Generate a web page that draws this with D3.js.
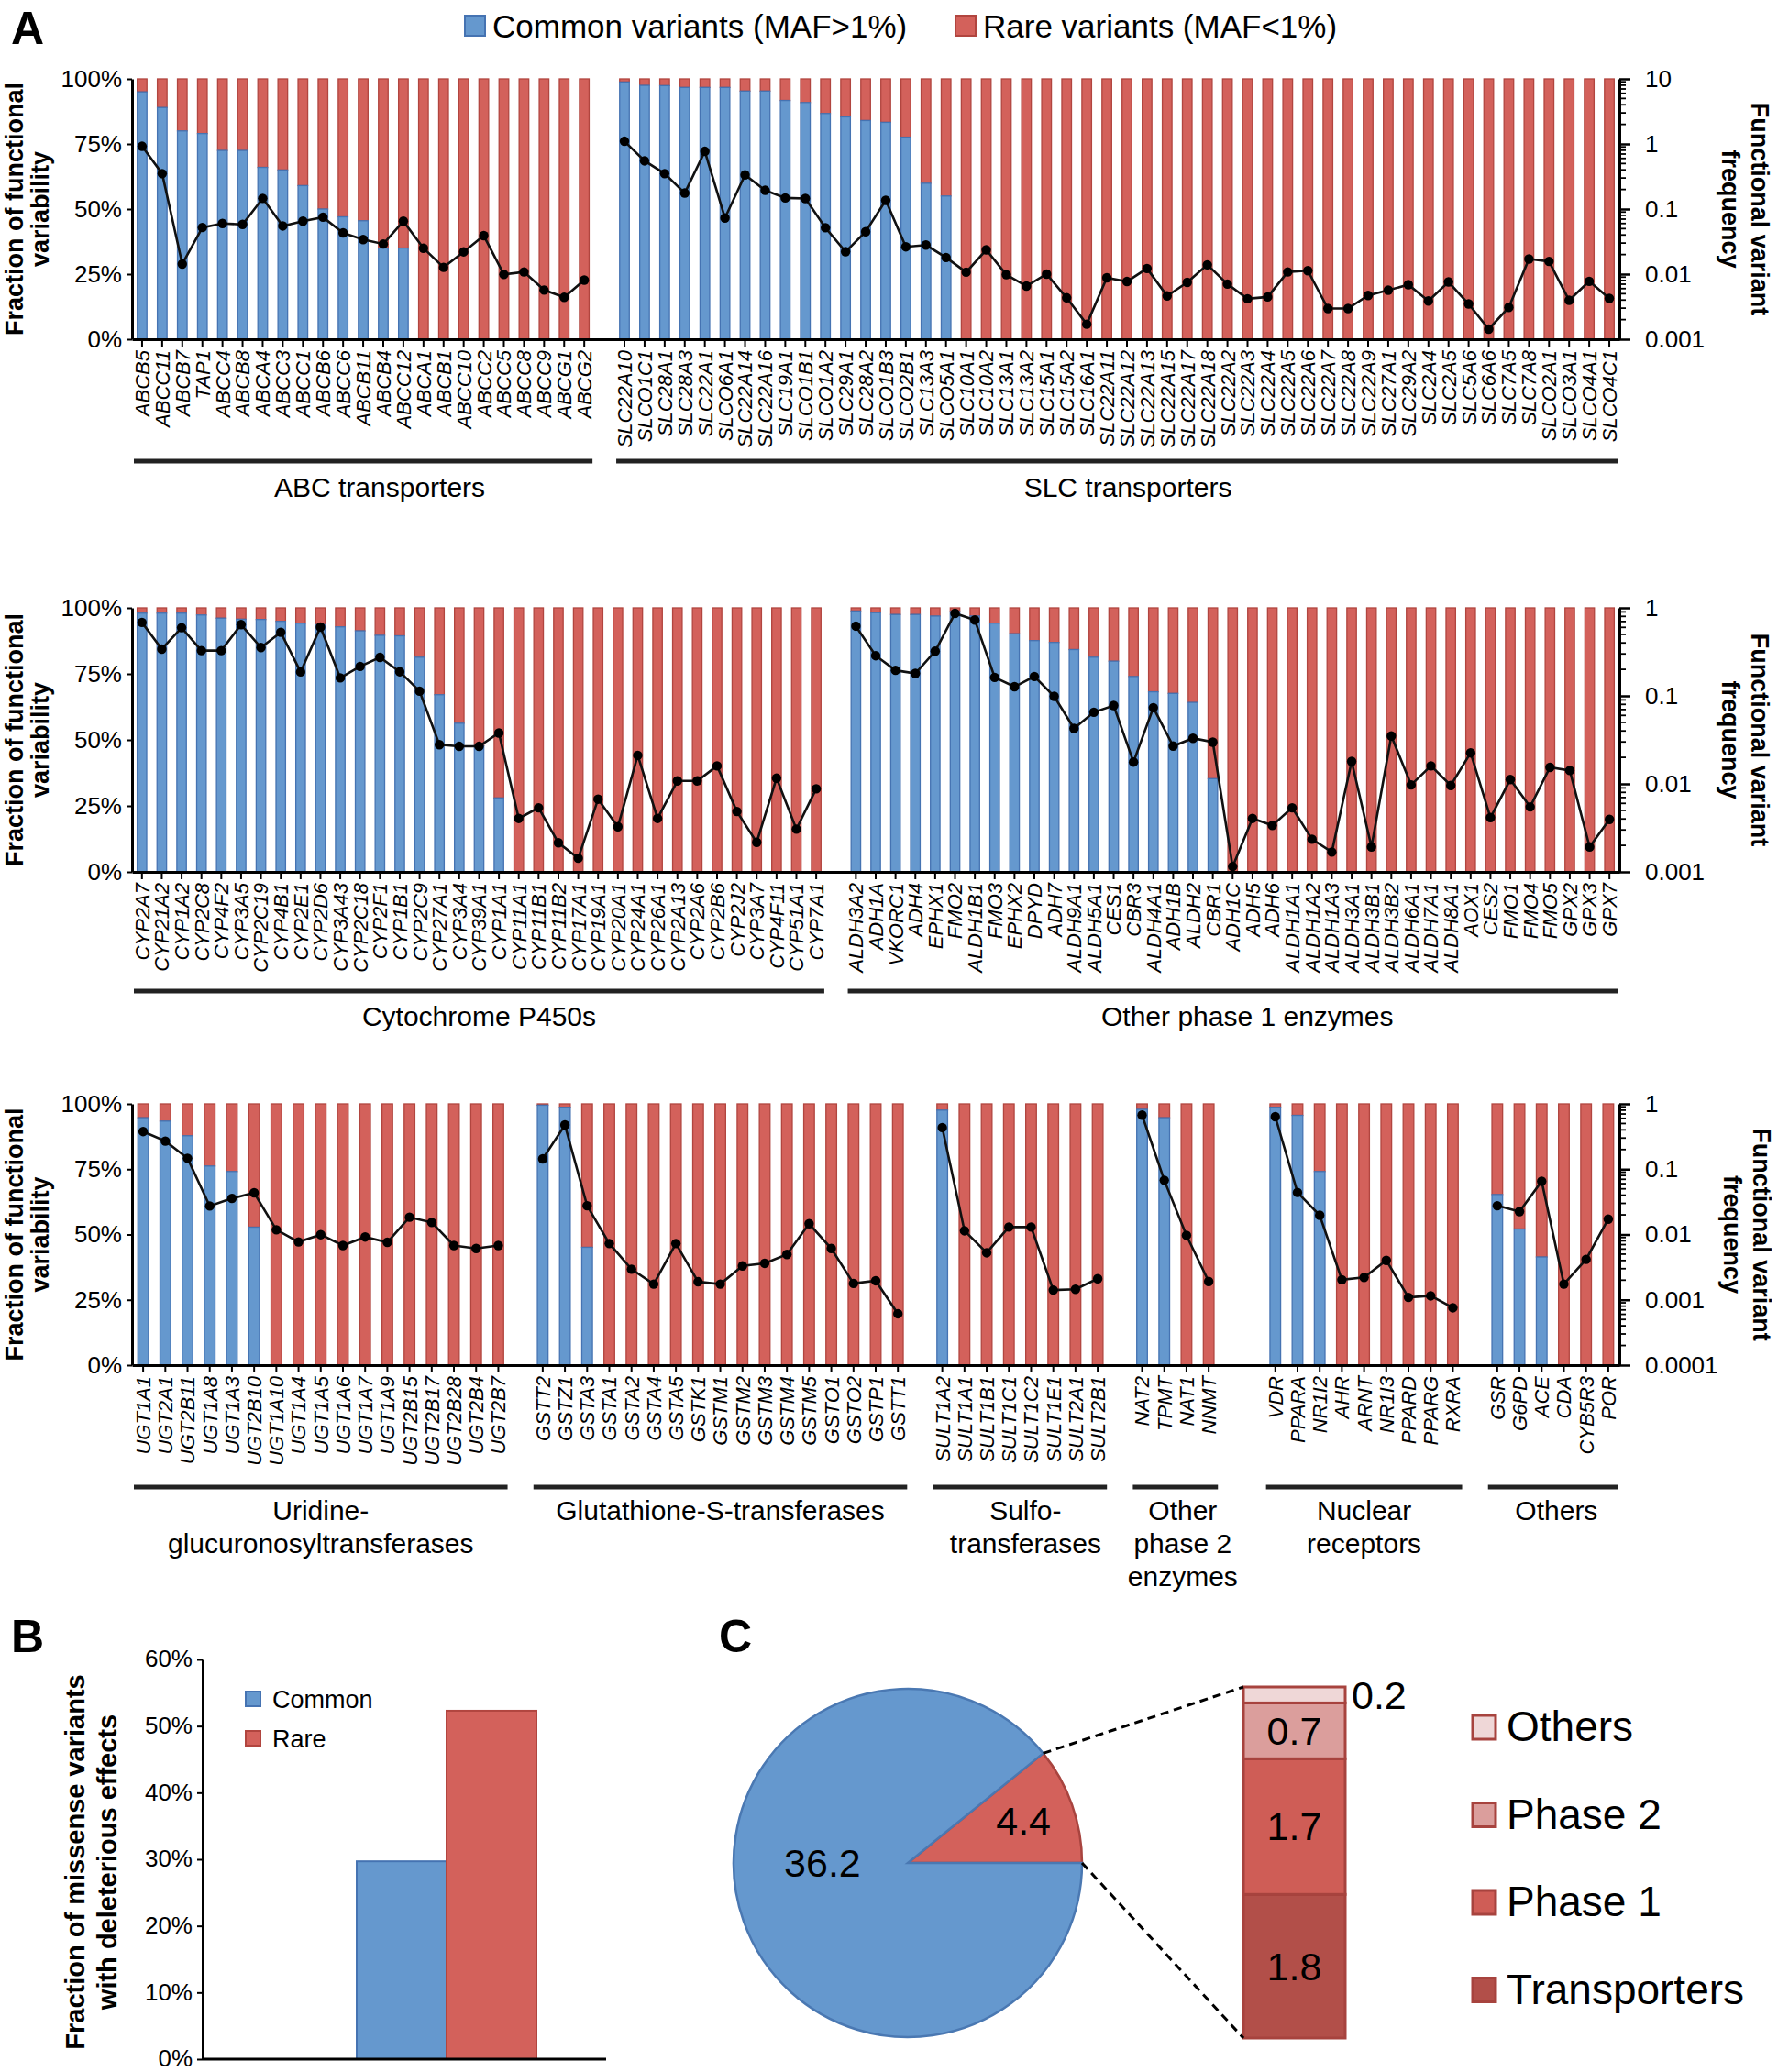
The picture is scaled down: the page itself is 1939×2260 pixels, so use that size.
<!DOCTYPE html>
<html><head><meta charset="utf-8">
<script src="https://cdn.jsdelivr.net/npm/d3@7"></script>
<style>
body{margin:0;background:#fff;}
svg text{font-family:"Liberation Sans",Arial,Helvetica,sans-serif;fill:#000;}
</style></head><body>
<svg id="chart" width="1939" height="2260"></svg>
<script>
// ---------------- DATA ----------------
const legendLabels = ["Common variants (MAF>1%)", "Rare variants (MAF<1%)"];
const leftTicks = [0, 0.25, 0.5, 0.75, 1];

const abcGenes = ["ABCB5","ABCC11","ABCB7","TAP1","ABCC4","ABCB8","ABCA4","ABCC3","ABCC1","ABCB6","ABCC6","ABCB11","ABCB4","ABCC12","ABCA1","ABCB1","ABCC10","ABCC2","ABCC5","ABCC8","ABCC9","ABCG1","ABCG2"];
const abcCommon = [0.95,0.89,0.80,0.79,0.725,0.725,0.66,0.65,0.59,0.50,0.47,0.455,0.35,0.35,0,0,0,0,0,0,0,0,0];
const abcFreq = [0.92,0.35,0.0143,0.052,0.060,0.058,0.146,0.055,0.065,0.075,0.043,0.034,0.029,0.065,0.025,0.0127,0.022,0.039,0.0099,0.0108,0.0057,0.0044,0.0081];

const slcGenes = ["SLC22A10","SLCO1C1","SLC28A1","SLC28A3","SLC22A1","SLCO6A1","SLC22A14","SLC22A16","SLC19A1","SLCO1B1","SLCO1A2","SLC29A1","SLC28A2","SLCO1B3","SLCO2B1","SLC13A3","SLCO5A1","SLC10A1","SLC10A2","SLC13A1","SLC13A2","SLC15A1","SLC15A2","SLC16A1","SLC22A11","SLC22A12","SLC22A13","SLC22A15","SLC22A17","SLC22A18","SLC22A2","SLC22A3","SLC22A4","SLC22A5","SLC22A6","SLC22A7","SLC22A8","SLC22A9","SLC27A1","SLC29A2","SLC2A4","SLC2A5","SLC5A6","SLC6A6","SLC7A5","SLC7A8","SLCO2A1","SLCO3A1","SLCO4A1","SLCO4C1"];
const slcCommon = [0.988,0.975,0.974,0.967,0.967,0.967,0.953,0.953,0.917,0.909,0.867,0.854,0.840,0.833,0.776,0.599,0.550,0,0,0,0,0,0,0,0,0,0,0,0,0,0,0,0,0,0,0,0,0,0,0,0,0,0,0,0,0,0,0,0,0];
const slcFreq = [1.10,0.55,0.35,0.176,0.77,0.073,0.334,0.194,0.148,0.145,0.0516,0.0221,0.0448,0.136,0.0263,0.028,0.018,0.0107,0.0236,0.0098,0.00655,0.010,0.00433,0.0017,0.00878,0.0077,0.0122,0.00462,0.00746,0.0139,0.00703,0.00418,0.00446,0.0108,0.0113,0.00296,0.00296,0.00471,0.00566,0.00688,0.00387,0.00759,0.00348,0.00143,0.00309,0.0171,0.0157,0.00396,0.00775,0.00423];

const cypGenes = ["CYP2A7","CYP21A2","CYP1A2","CYP2C8","CYP4F2","CYP3A5","CYP2C19","CYP4B1","CYP2E1","CYP2D6","CYP3A43","CYP2C18","CYP2F1","CYP1B1","CYP2C9","CYP27A1","CYP3A4","CYP39A1","CYP1A1","CYP11A1","CYP11B1","CYP11B2","CYP17A1","CYP19A1","CYP20A1","CYP24A1","CYP26A1","CYP2A13","CYP2A6","CYP2B6","CYP2J2","CYP3A7","CYP4F11","CYP51A1","CYP7A1"];
const cypCommon = [0.98,0.98,0.98,0.973,0.961,0.957,0.956,0.949,0.942,0.936,0.928,0.913,0.896,0.894,0.813,0.671,0.563,0.478,0.28,0,0,0,0,0,0,0,0,0,0,0,0,0,0,0,0];
const cypFreq = [0.683,0.340,0.596,0.327,0.327,0.645,0.354,0.528,0.187,0.605,0.160,0.216,0.274,0.188,0.113,0.0279,0.0267,0.0267,0.0379,0.00405,0.00535,0.00214,0.00143,0.0067,0.00326,0.0211,0.00405,0.0108,0.0108,0.016,0.00486,0.00217,0.0116,0.00306,0.00878];

const ph1Genes = ["ALDH3A2","ADH1A","VKORC1","ADH4","EPHX1","FMO2","ALDH1B1","FMO3","EPHX2","DPYD","ADH7","ALDH9A1","ALDH5A1","CES1","CBR3","ALDH4A1","ADH1B","ALDH2","CBR1","ADH1C","ADH5","ADH6","ALDH1A1","ALDH1A2","ALDH1A3","ALDH3A1","ALDH3B1","ALDH3B2","ALDH6A1","ALDH7A1","ALDH8A1","AOX1","CES2","FMO1","FMO4","FMO5","GPX2","GPX3","GPX7"];
const ph1Common = [0.988,0.982,0.975,0.975,0.969,0.986,0.969,0.942,0.902,0.876,0.869,0.842,0.813,0.798,0.740,0.682,0.676,0.642,0.353,0,0,0,0,0,0,0,0,0,0,0,0,0,0,0,0,0,0,0,0];
const ph1Freq = [0.620,0.286,0.195,0.180,0.322,0.867,0.727,0.162,0.127,0.166,0.0987,0.0427,0.0652,0.0777,0.0177,0.0735,0.0269,0.033,0.0298,0.00115,0.00405,0.00337,0.00535,0.00235,0.00168,0.018,0.00192,0.035,0.00974,0.016,0.0096,0.0225,0.00414,0.0112,0.00548,0.0154,0.0142,0.00192,0.00395];

const ugtGenes = ["UGT1A1","UGT2A1","UGT2B11","UGT1A8","UGT1A3","UGT2B10","UGT1A10","UGT1A4","UGT1A5","UGT1A6","UGT1A7","UGT1A9","UGT2B15","UGT2B17","UGT2B28","UGT2B4","UGT2B7"];
const ugtCommon = [0.947,0.934,0.878,0.762,0.741,0.528,0,0,0,0,0,0,0,0,0,0,0];
const ugtFreq = [0.377,0.269,0.147,0.0273,0.0357,0.0435,0.0118,0.0077,0.00994,0.00678,0.00917,0.0076,0.0184,0.0153,0.00678,0.0061,0.00678];

const gstGenes = ["GSTT2","GSTZ1","GSTA3","GSTA1","GSTA2","GSTA4","GSTA5","GSTK1","GSTM1","GSTM2","GSTM3","GSTM4","GSTM5","GSTO1","GSTO2","GSTP1","GSTT1"];
const gstCommon = [0.995,0.987,0.451,0,0,0,0,0,0,0,0,0,0,0,0,0,0];
const gstFreq = [0.144,0.475,0.0276,0.00727,0.00294,0.00174,0.00727,0.00189,0.00174,0.0033,0.00362,0.00495,0.0146,0.0061,0.00178,0.00196,0.000612];

const sultGenes = ["SULT1A2","SULT1A1","SULT1B1","SULT1C1","SULT1C2","SULT1E1","SULT2A1","SULT2B1"];
const sultCommon = [0.976,0,0,0,0,0,0,0];
const sultFreq = [0.433,0.0114,0.00525,0.013,0.013,0.00141,0.00145,0.0021];

const ph2Genes = ["NAT2","TPMT","NAT1","NNMT"];
const ph2Common = [0.979,0.947,0,0];
const ph2Freq = [0.674,0.0676,0.0097,0.00191];

const nucGenes = ["VDR","PPARA","NR1I2","AHR","ARNT","NR1I3","PPARD","PPARG","RXRA"];
const nucCommon = [0.987,0.956,0.741,0,0,0,0,0,0];
const nucFreq = [0.636,0.044,0.0197,0.00203,0.0022,0.00402,0.00109,0.00115,0.000755];

const othGenes = ["GSR","G6PD","ACE","CDA","CYB5R3","POR"];
const othCommon = [0.653,0.521,0.414,0,0,0];
const othFreq = [0.0276,0.0224,0.0653,0.00174,0.00416,0.0172];

// Panel B
const bCats = ["Common","Rare"];
const bValues = [0.297, 0.523];
const bTicks = [0,0.1,0.2,0.3,0.4,0.5,0.6];

// Panel C
const pieCats = ["Rare","Common"];
const pieValues = [4.4, 36.2];
const stackCats = ["Transporters","Phase 1","Phase 2","Others"];
const stackValues = [1.8, 1.7, 0.7, 0.2];

// ---------------- STYLE ----------------
const BLUE = "#6598CE", BLUE_S = "#4573B2", RED = "#D3615B", RED_S = "#B1453F";
const STACK_FILL = ["#B24F49","#CF5D56","#DB9E9C","#EFD7D7"];
const STACK_S = "#A7433E";
const X0 = 144, X1 = 1766;
const svg = d3.select("#chart");

function styleText(sel, size) {
  sel.attr("font-family", null).attr("font-size", null);
  sel.selectAll("text").style("font-size", size + "px").style("fill", "#000");
}

function fmtLog(d) { return String(d); }

function drawRow(cfg) {
  const keys = [];
  const allGenes = [];
  cfg.groups.forEach((grp, gi) => {
    grp.genes.forEach(n => { keys.push(n); allGenes.push(n); });
    if (gi < cfg.groups.length - 1) for (let k = 0; k < cfg.gaps[gi]; k++) keys.push("gap" + gi + "_" + k);
  });
  const x = d3.scaleBand().domain(keys).range([X0, X1]).paddingInner(0.52).paddingOuter(0.26);
  const y = d3.scaleLinear().domain([0, 1]).range([cfg.bottom, cfg.top]);
  const yr = d3.scaleLog().domain(cfg.logDomain).range([cfg.bottom, cfg.top]);
  const g = svg.append("g");

  cfg.groups.forEach(grp => {
    const data = grp.genes.map((n, i) => ({ n, c: grp.common[i], f: grp.freq[i] }));
    g.append("g").selectAll("rect").data(data).enter().append("rect")
      .attr("x", d => x(d.n)).attr("width", x.bandwidth())
      .attr("y", y(1)).attr("height", d => y(d.c) - y(1))
      .attr("fill", RED).attr("stroke", RED_S).attr("stroke-width", 1.3);
    g.append("g").selectAll("rect").data(data.filter(d => d.c > 0)).enter().append("rect")
      .attr("x", d => x(d.n)).attr("width", x.bandwidth())
      .attr("y", d => y(d.c)).attr("height", d => y(0) - y(d.c))
      .attr("fill", BLUE).attr("stroke", BLUE_S).attr("stroke-width", 1.3);
  });

  // bottom axis
  const gx = g.append("g").attr("transform", `translate(0,${cfg.bottom})`)
    .call(d3.axisBottom(x).tickValues(allGenes).tickSize(8).tickSizeOuter(0));
  gx.select(".domain").attr("stroke-width", 3);
  gx.selectAll(".tick line").attr("stroke-width", 2);
  styleText(gx, 22);
  gx.selectAll("text").attr("transform", "rotate(-90)").attr("x", -12).attr("y", 0)
    .attr("dy", "0.36em").style("text-anchor", "end").style("font-style", "italic");

  // left axis
  const gl = g.append("g").attr("transform", `translate(${X0},0)`)
    .call(d3.axisLeft(y).tickValues(leftTicks).tickFormat(d => Math.round(d * 100) + "%").tickSize(6).tickPadding(5).tickSizeOuter(0));
  gl.select(".domain").attr("stroke-width", 3);
  gl.selectAll(".tick line").attr("stroke-width", 2);
  styleText(gl, 26);

  // right log axis
  const d0 = Math.log10(cfg.logDomain[0]), d1 = Math.log10(cfg.logDomain[1]);
  const majors = d3.range(d0, d1 + 1).map(e => +Math.pow(10, e).toPrecision(1));
  const minors = [];
  for (let e = d0; e < d1; e++) for (let k = 2; k <= 9; k++) minors.push(k * Math.pow(10, e));
  const gr = g.append("g").attr("transform", `translate(${X1},0)`)
    .call(d3.axisRight(yr).tickValues(majors).tickFormat(fmtLog).tickSize(12).tickPadding(16).tickSizeOuter(0));
  gr.select(".domain").attr("stroke-width", 3);
  gr.selectAll(".tick line").attr("stroke-width", 2.5);
  styleText(gr, 26);
  gr.selectAll("line.minor").data(minors).enter().append("line").attr("class", "minor")
    .attr("x1", 0).attr("x2", 7).attr("y1", d => yr(d)).attr("y2", d => yr(d))
    .attr("stroke", "#000").attr("stroke-width", 1.8);

  // lines & dots
  cfg.groups.forEach(grp => {
    const data = grp.genes.map((n, i) => ({ n, f: grp.freq[i] }));
    const line = d3.line().x(d => x(d.n) + x.bandwidth() / 2).y(d => yr(d.f));
    g.append("path").datum(data).attr("d", line).attr("fill", "none")
      .attr("stroke", "#111").attr("stroke-width", 2.6);
    g.append("g").selectAll("circle").data(data).enter().append("circle")
      .attr("cx", d => x(d.n) + x.bandwidth() / 2).attr("cy", d => yr(d.f)).attr("r", 5.2).attr("fill", "#000");
  });

  // group brackets and labels
  cfg.groups.forEach(grp => {
    const s = x(grp.genes[0]) - x.step() * x.paddingInner() / 2 + 2;
    const e = x(grp.genes[grp.genes.length - 1]) + x.bandwidth() + x.step() * x.paddingInner() / 2 - 2;
    g.append("line").attr("x1", s).attr("x2", e).attr("y1", cfg.lineY).attr("y2", cfg.lineY)
      .attr("stroke", "#222").attr("stroke-width", 5);
    const cxl = (s + e) / 2 + (grp.shift || 0);
    const t = g.append("text").attr("x", cxl).attr("y", cfg.labelY)
      .attr("text-anchor", "middle").style("font-size", "30px");
    grp.label.forEach((ln, i) => t.append("tspan").attr("x", cxl).attr("dy", i === 0 ? 0 : 36).text(ln));
  });

  // titles
  const cy = (cfg.top + cfg.bottom) / 2;
  [["Fraction of functional", 25], ["variability", 53]].forEach(([txt, bx]) => {
    g.append("text").attr("transform", `translate(${bx},${cy}) rotate(-90)`)
      .attr("text-anchor", "middle").style("font-size", "27px").style("font-weight", "bold").text(txt);
  });
  [["Functional variant", cfg.rtX[0]], ["frequency", cfg.rtX[1]]].forEach(([txt, bx]) => {
    g.append("text").attr("transform", `translate(${bx},${cy}) rotate(90)`)
      .attr("text-anchor", "middle").style("font-size", "27px").style("font-weight", "bold").text(txt);
  });
}

// ---------------- PANEL A ----------------
svg.append("text").attr("x", 12).attr("y", 48).style("font-size", "50px").style("font-weight", "bold").text("A");
// top legend
[[BLUE, BLUE_S, 507, 537], [RED, RED_S, 1042, 1072]].forEach((c, i) => {
  svg.append("rect").attr("x", c[2]).attr("y", 17).attr("width", 22).attr("height", 22)
    .attr("fill", c[0]).attr("stroke", c[1]).attr("stroke-width", 2);
  svg.append("text").attr("x", c[3]).attr("y", 41).style("font-size", "35px").text(legendLabels[i]);
});

drawRow({
  top: 86, bottom: 370, logDomain: [0.001, 10], lineY: 503, labelY: 542, rtX: [1910, 1878],
  gaps: [1],
  groups: [
    { genes: abcGenes, common: abcCommon, freq: abcFreq, label: ["ABC transporters"], shift: 18 },
    { genes: slcGenes, common: slcCommon, freq: slcFreq, label: ["SLC transporters"], shift: 12 }
  ]
});
drawRow({
  top: 663, bottom: 951, logDomain: [0.001, 1], lineY: 1081, labelY: 1119, rtX: [1910, 1878],
  gaps: [1],
  groups: [
    { genes: cypGenes, common: cypCommon, freq: cypFreq, label: ["Cytochrome P450s"] },
    { genes: ph1Genes, common: ph1Common, freq: ph1Freq, label: ["Other phase 1 enzymes"], shift: 16 }
  ]
});
drawRow({
  top: 1204, bottom: 1489, logDomain: [0.0001, 1], lineY: 1622, labelY: 1658, rtX: [1912, 1880],
  gaps: [1, 1, 1, 2, 1],
  groups: [
    { genes: ugtGenes, common: ugtCommon, freq: ugtFreq, label: ["Uridine-", "glucuronosyltransferases"] },
    { genes: gstGenes, common: gstCommon, freq: gstFreq, label: ["Glutathione-S-transferases"] },
    { genes: sultGenes, common: sultCommon, freq: sultFreq, label: ["Sulfo-", "transferases"], shift: 6 },
    { genes: ph2Genes, common: ph2Common, freq: ph2Freq, label: ["Other", "phase 2", "enzymes"], shift: 8 },
    { genes: nucGenes, common: nucCommon, freq: nucFreq, label: ["Nuclear", "receptors"] },
    { genes: othGenes, common: othCommon, freq: othFreq, label: ["Others"], shift: 4 }
  ]
});

// ---------------- PANEL B ----------------
svg.append("text").attr("x", 12).attr("y", 1802).style("font-size", "50px").style("font-weight", "bold").text("B");
const bY = d3.scaleLinear().domain([0, 0.6]).range([2246, 1810]);
const bX = d3.scaleBand().domain(bCats).range([389, 585]).padding(0);
const bFill = [BLUE, RED], bStroke = [BLUE_S, RED_S];
svg.append("g").selectAll("rect").data(bCats).enter().append("rect")
  .attr("x", d => bX(d)).attr("width", bX.bandwidth())
  .attr("y", (d, i) => bY(bValues[i])).attr("height", (d, i) => bY(0) - bY(bValues[i]))
  .attr("fill", (d, i) => bFill[i]).attr("stroke", (d, i) => bStroke[i]).attr("stroke-width", 2);
const gbl = svg.append("g").attr("transform", "translate(221,0)")
  .call(d3.axisLeft(bY).tickValues(bTicks).tickFormat(d3.format(".0%")).tickSize(6).tickPadding(5).tickSizeOuter(0));
gbl.select(".domain").attr("stroke-width", 3);
gbl.selectAll(".tick line").attr("stroke-width", 2);
styleText(gbl, 26);
gbl.selectAll("text").attr("dy", "0.3em");
svg.append("line").attr("x1", 221).attr("x2", 661).attr("y1", bY(0)).attr("y2", bY(0))
  .attr("stroke", "#000").attr("stroke-width", 3);
bCats.forEach((c, i) => {
  svg.append("rect").attr("x", 268).attr("y", 1845 + i * 43).attr("width", 16).attr("height", 16)
    .attr("fill", bFill[i]).attr("stroke", bStroke[i]).attr("stroke-width", 2);
  svg.append("text").attr("x", 297).attr("y", 1863 + i * 43).style("font-size", "27px").text(c);
});
[["Fraction of missense variants", 92], ["with deleterious effects", 127]].forEach(([t, bx]) => {
  svg.append("text").attr("transform", `translate(${bx},2031) rotate(-90)`).attr("text-anchor", "middle")
    .style("font-size", "29px").style("font-weight", "bold").text(t);
});

// ---------------- PANEL C ----------------
svg.append("text").attr("x", 784).attr("y", 1802).style("font-size", "50px").style("font-weight", "bold").text("C");
const pcx = 990, pcy = 2032, pr = 190;
const pTotal = d3.sum(pieValues);
const theta = 2 * Math.PI * pieValues[0] / pTotal;
const pie = d3.pie().sort(null).startAngle(Math.PI / 2 - theta).endAngle(Math.PI / 2 - theta + 2 * Math.PI);
const arcs = pie(pieValues);
const arc = d3.arc().innerRadius(0).outerRadius(pr);
const pg = svg.append("g").attr("transform", `translate(${pcx},${pcy})`);
pg.selectAll("path").data(arcs).enter().append("path").attr("d", arc)
  .attr("fill", (d, i) => i === 0 ? RED : BLUE).attr("stroke", (d, i) => i === 0 ? "#A8443F" : "#4A78B2").attr("stroke-width", 2.5);
const rareLabelArc = d3.arc().innerRadius(137).outerRadius(137);
const rc = rareLabelArc.centroid(arcs[0]);
pg.append("text").attr("x", rc[0] - 3).attr("y", rc[1] + 15).attr("text-anchor", "middle").style("font-size", "43px").text(pieValues[0].toFixed(1));
pg.append("text").attr("x", -pr * 0.49).attr("y", 15).attr("text-anchor", "middle").style("font-size", "43px").text(pieValues[1].toFixed(1));

const sx0 = 1356, sw = 111;
const sY = d3.scaleLinear().domain([0, d3.sum(stackValues)]).range([2223, 1840]);
let cum = 0;
const stackData = stackValues.map((v, i) => { const o = { k: stackCats[i], v, y0: cum, y1: cum + v, i }; cum += v; return o; });
svg.append("g").selectAll("rect").data(stackData).enter().append("rect")
  .attr("x", sx0).attr("width", sw).attr("y", d => sY(d.y1)).attr("height", d => sY(d.y0) - sY(d.y1))
  .attr("fill", d => STACK_FILL[d.i]).attr("stroke", STACK_S).attr("stroke-width", 3);
stackData.forEach(d => {
  const cyv = (sY(d.y0) + sY(d.y1)) / 2;
  if (d.v >= 0.5) {
    svg.append("text").attr("x", sx0 + sw / 2).attr("y", cyv + 15).attr("text-anchor", "middle").style("font-size", "43px").text(d.v.toFixed(1));
  } else {
    svg.append("text").attr("x", sx0 + sw + 7).attr("y", cyv + 15).style("font-size", "43px").text(d.v.toFixed(1));
  }
});
// dashed connectors
const aTop = Math.PI / 2 - theta;
svg.append("line").attr("x1", pcx + pr * Math.sin(aTop)).attr("y1", pcy - pr * Math.cos(aTop))
  .attr("x2", sx0).attr("y2", sY(d3.sum(stackValues)))
  .attr("stroke", "#000").attr("stroke-width", 3).attr("stroke-dasharray", "9,6");
svg.append("line").attr("x1", pcx + pr).attr("y1", pcy).attr("x2", sx0).attr("y2", sY(0))
  .attr("stroke", "#000").attr("stroke-width", 3).attr("stroke-dasharray", "9,6");
// legend C (top to bottom: Others, Phase 2, Phase 1, Transporters)
stackData.slice().reverse().forEach((d, j) => {
  const ty = 1871 + j * 95.5;
  svg.append("rect").attr("x", 1606).attr("y", ty).attr("width", 25).attr("height", 26)
    .attr("fill", STACK_FILL[d.i]).attr("stroke", STACK_S).attr("stroke-width", 3);
  svg.append("text").attr("x", 1643).attr("y", ty + 28).style("font-size", "46px").text(d.k);
});
</script>
</body></html>
